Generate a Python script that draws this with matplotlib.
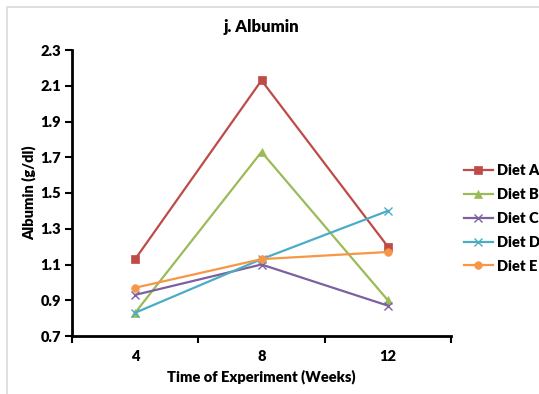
import matplotlib
matplotlib.use('Agg')
import matplotlib.pyplot as plt
from matplotlib.patches import Rectangle

plt.rcParams['font.family'] = ['Lato', 'DejaVu Sans']

weeks = ['4', '8', '12']
diet_a = [1.13, 2.13, 1.20]
diet_b = [0.83, 1.73, 0.90]
diet_c = [0.93, 1.10, 0.87]
diet_d = [0.83, 1.13, 1.40]
diet_e = [0.97, 1.13, 1.17]

series = [
    ('Diet A', diet_a, '#BE4B48', 's'),
    ('Diet B', diet_b, '#9BBB59', '^'),
    ('Diet C', diet_c, '#7D60A0', 'x'),
    ('Diet D', diet_d, '#4BACC6', 'x'),
    ('Diet E', diet_e, '#F79646', 'o'),
]

fig = plt.figure(figsize=(5.39, 3.94), dpi=100)
ax = fig.add_axes([72 / 539, 1 - 336 / 394, (451 - 72) / 539, (336 - 50) / 394])

x = list(range(1, len(weeks) + 1))
for name, vals, col, mk in series:
    ax.plot(x, vals, color=col, lw=1.6, marker=mk, markersize=5.5,
            markeredgewidth=1.0 if mk == 'x' else 0.5, label=name)

ax.set_xlim(0.5, 3.5)
ax.set_ylim(0.7, 2.3)
ax.set_yticks([0.7 + 0.2 * i for i in range(9)])
ax.set_yticklabels(['%.1f' % (0.7 + 0.2 * i) for i in range(9)])
ax.set_xticks(x)
ax.set_xticklabels(weeks)
ax.set_xticks([0.5, 1.5, 2.5, 3.5], minor=True)
ax.tick_params(axis='x', which='major', length=0, pad=10)
ax.tick_params(axis='x', which='minor', length=5, width=1.5, direction='out')
ax.tick_params(axis='y', length=5, width=1.5, direction='out', pad=3)
for lab in ax.get_xticklabels() + ax.get_yticklabels():
    lab.set_fontweight('heavy')
    lab.set_fontsize(10.5)

ax.spines['top'].set_visible(False)
ax.spines['right'].set_visible(False)
ax.spines['left'].set_linewidth(2)
ax.spines['bottom'].set_linewidth(2)

ax.set_title('j. Albumin', fontsize=12, fontweight='heavy', pad=13)
ax.set_xlabel('Time of Experiment (Weeks)', fontsize=10.5, fontweight='heavy', labelpad=5)
ax.set_ylabel('Albumin (g/dl)', fontsize=10.5, fontweight='heavy', labelpad=3)

fig.legend(loc='upper left', bbox_to_anchor=(458 / 539, 1 - 158 / 394), frameon=False,
           prop={'weight': 'heavy', 'size': 10.5}, handlelength=2.0, handletextpad=0.3,
           labelspacing=0.75, borderaxespad=0)

fig.patches.append(Rectangle((7 / 539, -0.05), 1.1, 1 - 7 / 394 + 0.05, transform=fig.transFigure,
                             fill=False, edgecolor='#d9d9d9', lw=1.2))

fig.savefig('out.png', dpi=100)
